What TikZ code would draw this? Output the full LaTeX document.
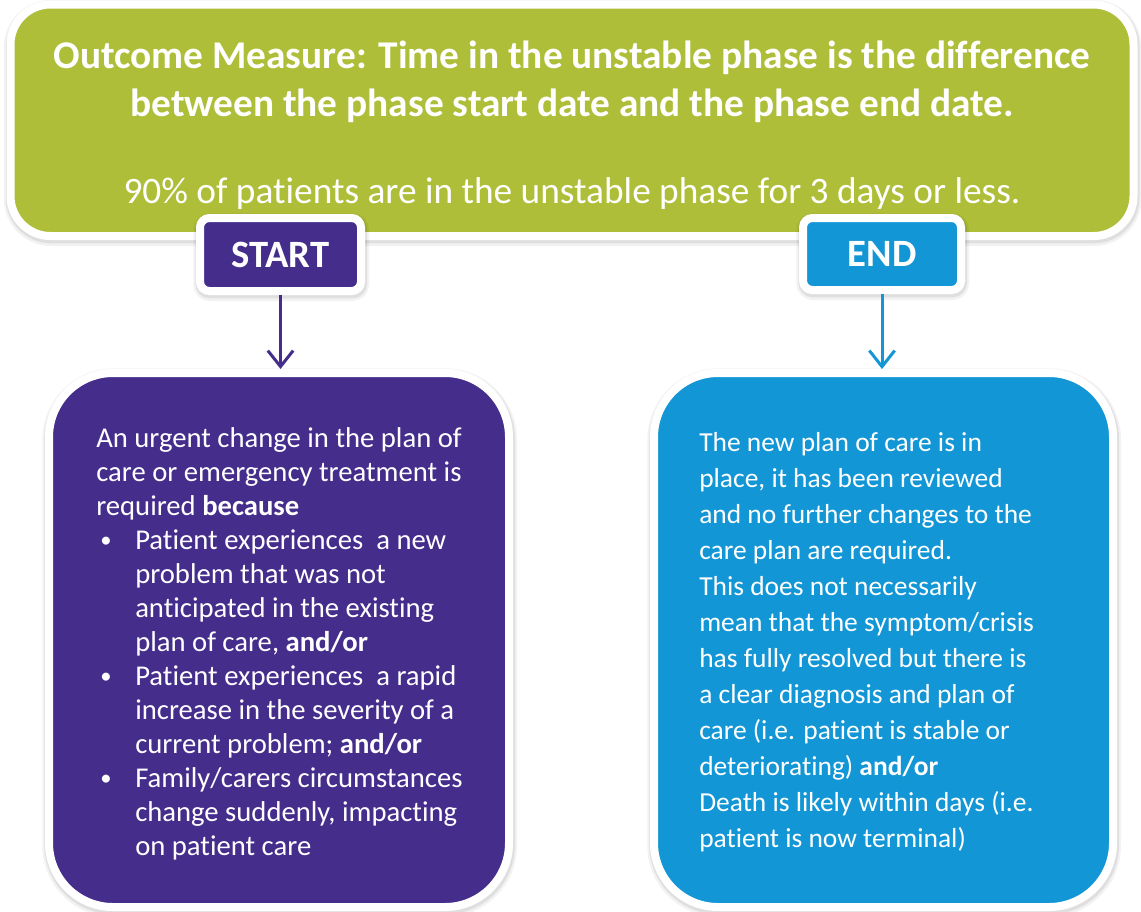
\documentclass[tikz,border=0pt]{standalone}
\usepackage{fontspec}
\setmainfont{Carlito}[Ligatures=NoCommon]
\usetikzlibrary{arrows.meta}
\definecolor{cgreen}{RGB}{174,190,56}
\definecolor{cpurple}{RGB}{69,45,140}
\definecolor{cblue}{RGB}{19,150,213}
\newcommand{\pbul}{\makebox[29.25pt][l]{\hspace{3pt}\raisebox{1.2pt}{\fontsize{17pt}{17pt}\selectfont •}}}
\newcommand{\pind}{\hspace*{29.25pt}}
\tikzset{
  card/.style={draw=white, line width=6pt, rounded corners=#1, inner sep=0pt,
    preaction={draw=black, opacity=0.05, line width=11pt, transform canvas={yshift=-2pt, xshift=0.5pt}},
    preaction={draw=black, opacity=0.08, line width=8pt, transform canvas={yshift=-1.5pt, xshift=0.5pt}}},
  tagtext/.style={text=white, font=\fontsize{29pt}{33pt}\selectfont\bfseries},
  bodytext/.style={text=white, align=left, inner sep=0pt, anchor=north west},
  flow/.style={line width=2.25pt, -{Straight Barb[length=12pt,width=19pt]}}
}
\begin{document}
\begin{tikzpicture}[x=0.75pt,y=-0.75pt]
\useasboundingbox (0,0) rectangle (1141,911);
% top box
\node[card=30pt, fill=cgreen, minimum width=1123*0.75pt, minimum height=231.5*0.75pt] (top) at (572,120.25) {};
\node[text=white, align=center, inner sep=0pt, anchor=north,
      font=\fontsize{29.5pt}{36pt}\selectfont] (toptext) at (572,41)
  {\textbf{Outcome Measure: Time in the unstable phase is the difference}\\
   \textbf{between the phase start date and the phase end date.}\\[29.25pt]
   \fontsize{28pt}{36pt}\selectfont 90\% of patients are in the unstable phase for 3 days or less.};
% tags
\node[card=7pt, fill=cpurple, tagtext, minimum width=161*0.75pt, minimum height=73*0.75pt] (start) at (280.5,254.5) {START};
\node[card=7pt, fill=cblue, tagtext, minimum width=158*0.75pt, minimum height=72*0.75pt] (end) at (882,254) {END};
% big boxes
\node[card=48pt, fill=cpurple, minimum width=460*0.75pt, minimum height=534*0.75pt] (sbox) at (279,640) {};
\node[card=48pt, fill=cblue, minimum width=459*0.75pt, minimum height=534*0.75pt] (ebox) at (883.5,640) {};
% arrows
\draw[flow, cpurple] (start.south) -- (start.south |- sbox.north);
\draw[flow, cblue] (end.south) -- (end.south |- ebox.north);
% texts
\node[bodytext, font=\fontsize{21.5pt}{25.5pt}\selectfont] (stext) at (96,427)
  {An urgent change in the plan of\\
   care or emergency treatment is\\
   required \textbf{because}\\
   \pbul Patient experiences\ \ a new\\
   \pind problem that was not\\
   \pind anticipated in the existing\\
   \pind plan of care, \textbf{and/or}\\
   \pbul Patient experiences\ \ a rapid\\
   \pind increase in the severity of a\\
   \pind current problem; \textbf{and/or}\\
   \pbul Family/carers circumstances\\
   \pind change suddenly, impacting\\
   \pind on patient care};
\node[bodytext, font=\fontsize{20.6pt}{27pt}\selectfont] (etext) at (699,432)
  {The new plan of care is in\\
   place, it has been reviewed\\
   and no further changes to the\\
   care plan are required.\\
   This does not necessarily\\
   mean that the symptom/crisis\\
   has fully resolved but there is\\
   a clear diagnosis and plan of\\
   care (i.e. patient is stable or\\
   deteriorating) \textbf{and/or}\\
   Death is likely within days (i.e.\\
   patient is now terminal)};
\end{tikzpicture}
\end{document}
